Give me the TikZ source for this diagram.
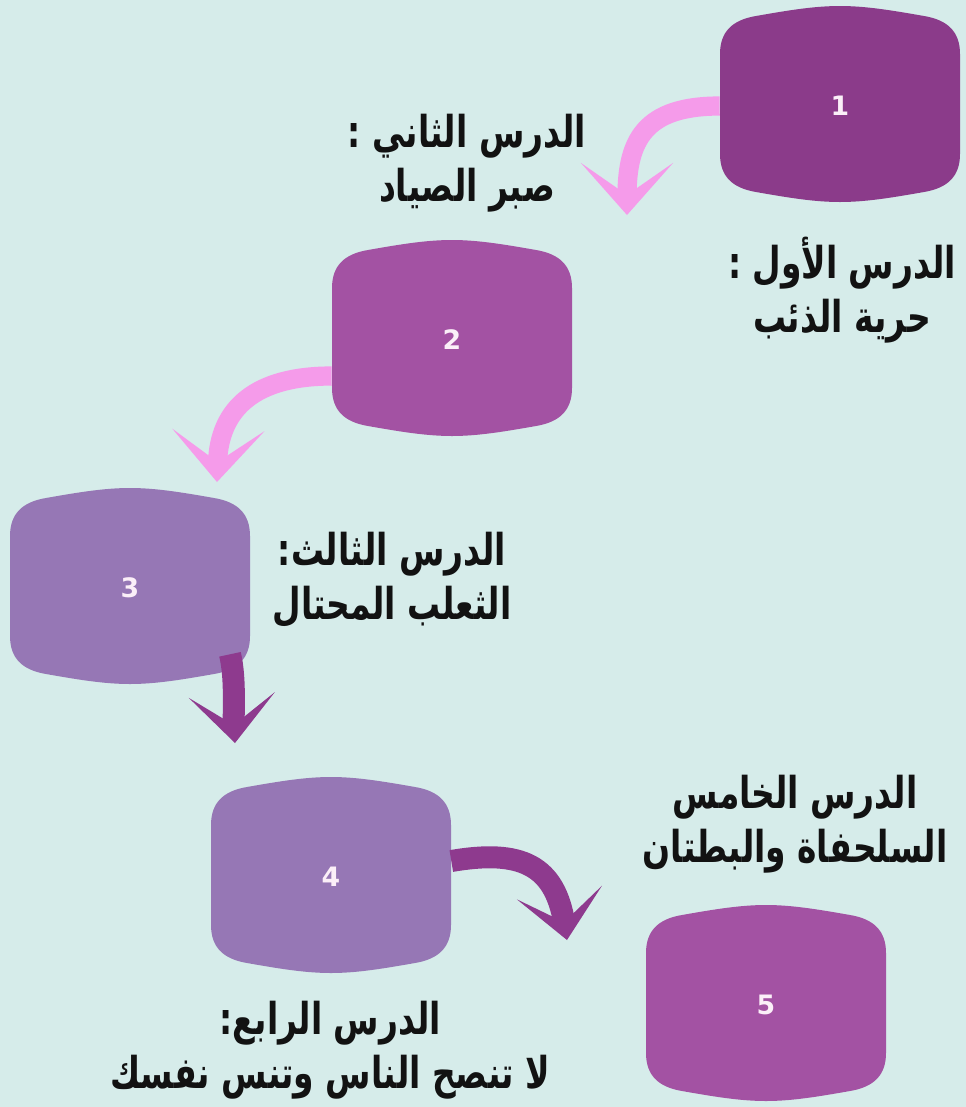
\documentclass[tikz,border=0pt]{standalone}
\usepackage{fontspec}
\usetikzlibrary{arrows.meta,calc}
\TeXXeTstate=1
\newfontfamily\arabicfont[Script=Arabic]{DejaVu Sans}
\newfontfamily\numfont{DejaVu Sans}
\definecolor{fondo}{HTML}{D6ECEA}
\definecolor{ciruela}{HTML}{8B3B8A}
\definecolor{malva}{HTML}{A352A3}
\definecolor{lila}{HTML}{9677B5}
\definecolor{rosa}{HTML}{F59BEA}
\definecolor{morado}{HTML}{8E3A8E}
\definecolor{tinta}{HTML}{121212}
\definecolor{blanco}{HTML}{FBEFF8}
\begin{document}
\begin{tikzpicture}[x=0.025cm, y=-0.025cm,
  numero/.style={text=blanco, font=\numfont\bfseries\fontsize{19}{19}\selectfont,
    minimum width=6cm, minimum height=4.3cm, inner sep=0pt},
  titulo/.style={align=center, text=tinta, xscale=0.9, yscale=1.2, transform shape,
    font=\arabicfont\bfseries\fontsize{26}{32}\selectfont},
  flecharosa/.style={rosa, line width=0.48cm,
    -{Stealth[length=1.3cm, width=2.3cm, inset=0.8cm]}},
  flechamorada/.style={morado, line width=0.55cm,
    -{Stealth[length=1.2cm, width=2.15cm, inset=0.75cm]}}]
  % Fondo
  \useasboundingbox (0,0) rectangle (966,1107);
  \fill[fondo] (0,0) rectangle (966,1107);

  % Cajas
  \foreach \n/\cx/\cy/\col in {1/840/104/ciruela, 2/452/338/malva, 3/130/586/lila,
      4/331/875/lila, 5/766/1003/malva}{
    \fill[\col] (\cx-120,\cy-50) .. controls (\cx-120,\cy-72) and (\cx-108,\cy-84) .. (\cx-84,\cy-88)
      .. controls (\cx-50,\cy-94) and (\cx-25,\cy-98) .. (\cx,\cy-98)
      .. controls (\cx+25,\cy-98) and (\cx+50,\cy-94) .. (\cx+84,\cy-88)
      .. controls (\cx+108,\cy-84) and (\cx+120,\cy-72) .. (\cx+120,\cy-50)
      -- (\cx+120,\cy+50)
      .. controls (\cx+120,\cy+72) and (\cx+108,\cy+84) .. (\cx+84,\cy+88)
      .. controls (\cx+50,\cy+94) and (\cx+25,\cy+98) .. (\cx,\cy+98)
      .. controls (\cx-25,\cy+98) and (\cx-50,\cy+94) .. (\cx-84,\cy+88)
      .. controls (\cx-108,\cy+84) and (\cx-120,\cy+72) .. (\cx-120,\cy+50) -- cycle;
    \node[numero] (b\n) at (\cx,\cy+2) {\n};
  }

  % Flechas
  \coordinate (p1) at (627,215);
  \coordinate (p2) at (217,482);
  \coordinate (p3) at (235,743);
  \coordinate (p4) at (567,940);
  \draw[flecharosa] (b1.west) .. controls +(-75,0) and +(0,-75) .. (p1);
  \draw[flecharosa] ($(b2.west)+(0,36)$) .. controls +(-75,0) and +(2,-75) .. (p2);
  \draw[flechamorada] ($(b3.south)+(100,-20)$) .. controls +(6,25) and +(-2,-30) .. (p3);
  \draw[flechamorada] ($(b4.east)+(0,-16)$) .. controls +(70,-12) and +(-12,-75) .. (p4);

  % Titulos
  \node[titulo] (t1) at (842,290) {\beginR الدرس الأول :\endR\\ \beginR حرية الذئب\endR};
  \node[titulo] (t2) at (467,163) {\beginR الدرس الثاني :\endR\\ \beginR صبر الصياد\endR};
  \node[titulo] (t3) at (392,580) {\beginR الدرس الثالث:\endR\\ \beginR الثعلب المحتال\endR};
  \node[titulo] (t4) at (330,1050) {\beginR الدرس الرابع:\endR\\ \beginR لا تنصح الناس وتنس نفسك\endR};
  \node[titulo] (t5) at (795,824) {\beginR الدرس الخامس\endR\\ \beginR السلحفاة والبطتان\endR};
\end{tikzpicture}
\end{document}
